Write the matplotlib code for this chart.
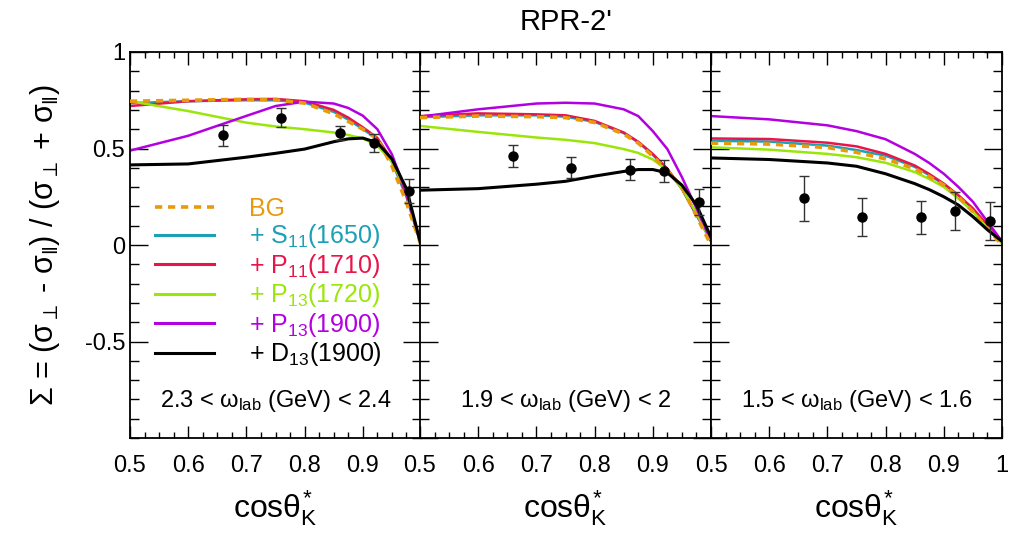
import numpy as np
import matplotlib
matplotlib.use("Agg")
import matplotlib.pyplot as plt
from matplotlib.lines import Line2D
from matplotlib.ticker import MultipleLocator

plt.rcParams["font.family"] = ["Liberation Sans", "DejaVu Sans"]
plt.rcParams["mathtext.fontset"] = "custom"
plt.rcParams["mathtext.rm"] = "Liberation Sans"
plt.rcParams["mathtext.it"] = "Liberation Sans"
plt.rcParams["mathtext.bf"] = "Liberation Sans:bold"
plt.rcParams["mathtext.fallback"] = "stixsans"

# model curves, sampled on a common cos(theta) grid
x_grid = [0.5, 0.6, 0.7, 0.75, 0.8, 0.85, 0.875, 0.9, 0.925, 0.95, 0.975, 1.0]

# panel 1: 2.3 < w_lab < 2.4
p1_bg = [0.745, 0.75, 0.755, 0.752, 0.735, 0.68, 0.64, 0.60, 0.55, 0.41, 0.22, 0.0]
p1_s11 = [0.735, 0.745, 0.75, 0.75, 0.738, 0.69, 0.65, 0.60, 0.55, 0.43, 0.25, 0.0]
p1_p11 = [0.72, 0.745, 0.755, 0.757, 0.745, 0.70, 0.66, 0.61, 0.555, 0.44, 0.26, 0.0]
p1_p13a = [0.745, 0.694, 0.634, 0.614, 0.60, 0.583, 0.57, 0.552, 0.515, 0.43, 0.28, 0.0]
p1_p13b = [0.489, 0.566, 0.669, 0.72, 0.743, 0.733, 0.71, 0.67, 0.60, 0.47, 0.27, 0.0]
p1_d13 = [0.415, 0.42, 0.455, 0.475, 0.497, 0.535, 0.55, 0.554, 0.53, 0.446, 0.292, 0.0]

# panel 2: 1.9 < w_lab < 2
p2_bg = [0.66, 0.668, 0.665, 0.66, 0.635, 0.575, 0.528, 0.46, 0.385, 0.30, 0.15, 0.0]
p2_s11 = [0.662, 0.672, 0.672, 0.665, 0.638, 0.58, 0.532, 0.467, 0.39, 0.29, 0.155, 0.02]
p2_p11 = [0.668, 0.682, 0.677, 0.672, 0.643, 0.583, 0.535, 0.472, 0.395, 0.292, 0.156, 0.036]
p2_p13a = [0.617, 0.586, 0.557, 0.545, 0.528, 0.497, 0.477, 0.443, 0.387, 0.292, 0.164, 0.02]
p2_p13b = [0.665, 0.703, 0.733, 0.737, 0.733, 0.703, 0.668, 0.59, 0.497, 0.352, 0.19, 0.02]
p2_d13 = [0.284, 0.292, 0.315, 0.33, 0.357, 0.381, 0.391, 0.391, 0.374, 0.31, 0.207, 0.04]

# panel 3: 1.5 < w_lab < 1.6
p3_bg = [0.528, 0.523, 0.505, 0.48, 0.446, 0.395, 0.355, 0.31, 0.25, 0.173, 0.087, 0.0]
p3_s11 = [0.54, 0.536, 0.515, 0.492, 0.463, 0.405, 0.362, 0.315, 0.255, 0.182, 0.095, 0.01]
p3_p11 = [0.552, 0.549, 0.53, 0.511, 0.472, 0.412, 0.368, 0.318, 0.258, 0.19, 0.104, 0.02]
p3_p13a = [0.506, 0.494, 0.472, 0.455, 0.426, 0.378, 0.342, 0.301, 0.241, 0.173, 0.087, 0.01]
p3_p13b = [0.668, 0.651, 0.62, 0.59, 0.548, 0.472, 0.425, 0.369, 0.301, 0.224, 0.121, 0.019]
p3_d13 = [0.451, 0.443, 0.425, 0.408, 0.369, 0.318, 0.287, 0.25, 0.207, 0.147, 0.079, 0.019]

# measured points
data_x = [0.66, 0.76, 0.86, 0.92, 0.98]
p1_y = [0.569, 0.66, 0.58, 0.53, 0.28]
p1_err = [0.054, 0.05, 0.035, 0.047, 0.06]
p2_y = [0.463, 0.40, 0.391, 0.381, 0.224]
p2_err = [0.057, 0.055, 0.054, 0.057, 0.068]
p3_y = [0.241, 0.144, 0.144, 0.176, 0.125]
p3_err = [0.115, 0.098, 0.086, 0.098, 0.10]

ranges = [r"2.3 < $\omega_{\mathrm{lab}}$ (GeV) < 2.4",
          r"1.9 < $\omega_{\mathrm{lab}}$ (GeV) < 2",
          r"1.5 < $\omega_{\mathrm{lab}}$ (GeV) < 1.6"]

labels = ["BG", r"+ S$_{11}$(1650)", r"+ P$_{11}$(1710)", r"+ P$_{13}$(1720)",
          r"+ P$_{13}$(1900)", r"+ D$_{13}$(1900)"]
colors = ["#E89A0C", "#1BA0B6", "#E8154A", "#9BE60A", "#B300E0", "#000000"]

panels = [
    ([p1_bg, p1_s11, p1_p11, p1_p13a, p1_p13b, p1_d13], p1_y, p1_err),
    ([p2_bg, p2_s11, p2_p11, p2_p13a, p2_p13b, p2_d13], p2_y, p2_err),
    ([p3_bg, p3_s11, p3_p11, p3_p13a, p3_p13b, p3_d13], p3_y, p3_err),
]

W, H = 1012, 534
fig = plt.figure(figsize=(W / 100, H / 100), dpi=100)

left_px = [130, 420, 711]
pw = 291
top_px, bot_px = 52, 438

for i, (curves, yv, ye) in enumerate(panels):
    ax = fig.add_axes([left_px[i] / W, 1 - bot_px / H, pw / W, (bot_px - top_px) / H])
    # draw order: colored first, then BG dashed, black on top
    for k in [1, 2, 3, 4]:
        ax.plot(x_grid, curves[k], color=colors[k], lw=1.8, zorder=2)
    ax.plot(x_grid, curves[0], color=colors[0], lw=2.6, dashes=(2.0, 1.6), zorder=3)
    ax.plot(x_grid, curves[5], color=colors[5], lw=2.2, zorder=4)
    ax.errorbar(data_x, yv, yerr=ye, fmt="o", color="black", ecolor="#333333",
                ms=6.5, elinewidth=1.0, capsize=3.5, capthick=1.0, zorder=5)

    ax.set_xlim(0.5, 1.0)
    ax.set_ylim(-1, 1)
    ax.yaxis.set_major_locator(MultipleLocator(0.5))
    ax.yaxis.set_minor_locator(MultipleLocator(0.1))
    ax.tick_params(which="both", direction="in", top=True, right=True, width=1.0,
                   labelsize=17)
    ax.tick_params(axis="x", which="major", length=9, pad=12)
    ax.tick_params(axis="x", which="minor", length=4.5)
    ax.tick_params(axis="y", which="major", length=13)
    ax.tick_params(axis="y", which="minor", length=6.5)
    for s in ax.spines.values():
        s.set_linewidth(1.3)

    if i < 2:
        ax.set_xticks([0.5, 0.6, 0.7, 0.8, 0.9])
        ax.set_xticklabels(["0.5", "0.6", "0.7", "0.8", "0.9"])
    else:
        ax.set_xticks([0.5, 0.6, 0.7, 0.8, 0.9, 1.0])
        ax.set_xticklabels(["0.5", "0.6", "0.7", "0.8", "0.9", "1"])
    ax.xaxis.set_minor_locator(MultipleLocator(0.025))

    if i == 0:
        ax.set_yticks([-0.5, 0, 0.5, 1])
        ax.set_yticklabels(["-0.5", "0", "0.5", "1"])
        ax.set_ylabel(r"$\Sigma$ = ($\sigma_{\perp}$ - $\sigma_{\Vert}$) / ($\sigma_{\perp}$ + $\sigma_{\Vert}$)",
                      fontsize=22, labelpad=16)
        handles = [Line2D([], [], color=colors[0], lw=2.6, dashes=(2.0, 1.6))]
        handles += [Line2D([], [], color=c, lw=2.2) for c in colors[1:]]
        ax.legend(handles, labels, loc="upper left", bbox_to_anchor=(0.044, 0.657),
                  frameon=False, fontsize=18, labelcolor="linecolor",
                  handlelength=2.35, handletextpad=1.4, labelspacing=0.06,
                  borderpad=0.0)
    else:
        ax.set_yticklabels([])

    ax.text(0.5, 0.095, ranges[i], transform=ax.transAxes, ha="center",
            va="center", fontsize=17)
    ax.set_xlabel(r"cos$\theta_{\mathrm{K}}^{*}$", fontsize=23, labelpad=8)

fig.text(566 / W, 1 - 22 / H, "RPR-2'", ha="center", va="center", fontsize=21)

fig.savefig("out.png", dpi=100)
